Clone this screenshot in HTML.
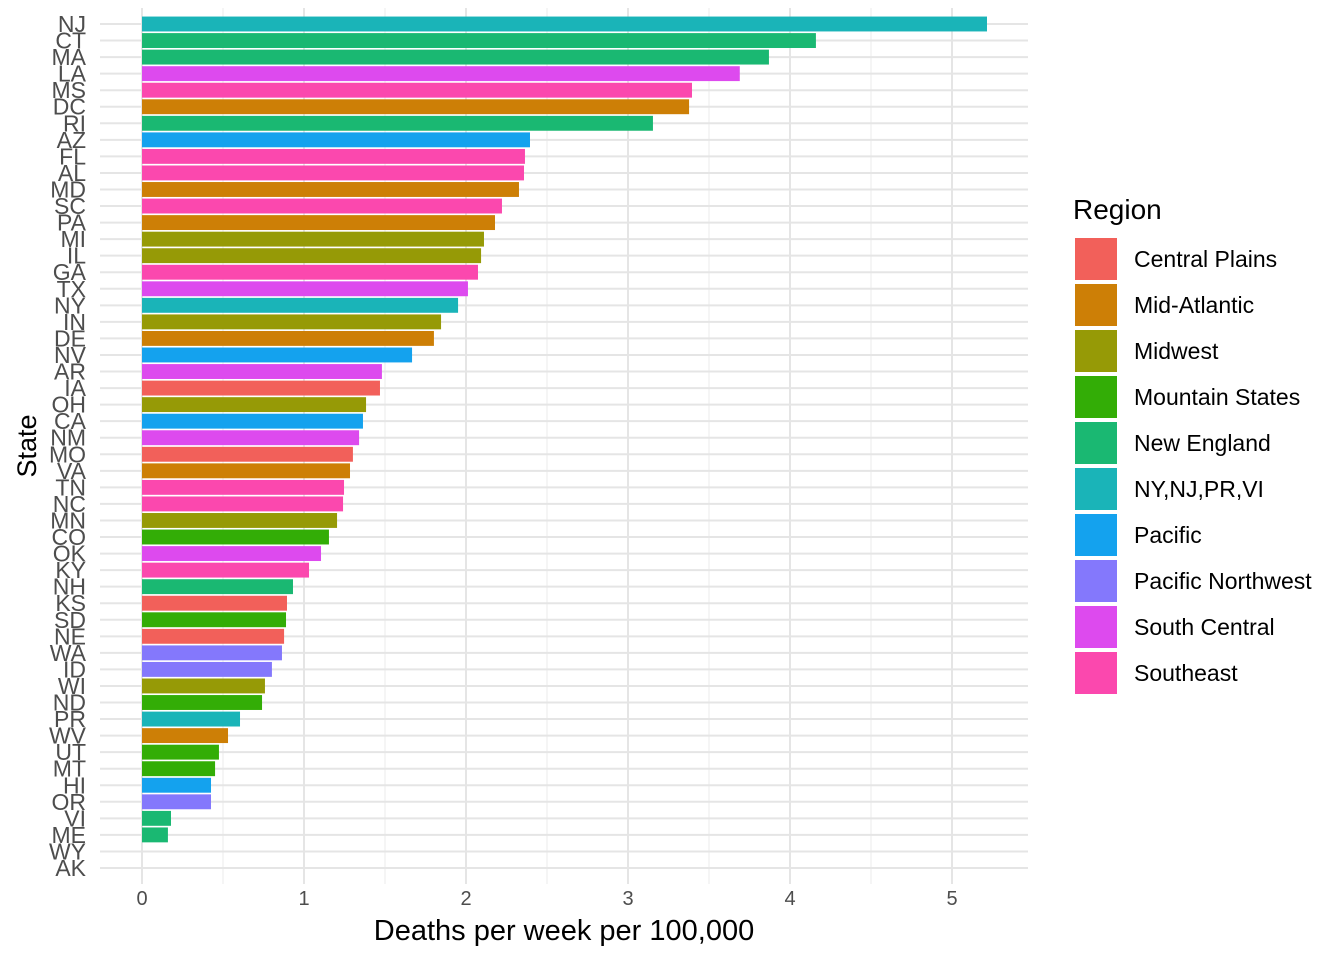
<!DOCTYPE html>
<html><head><meta charset="utf-8"><style>
body{margin:0;background:#fff;font-family:"Liberation Sans",Arial,sans-serif;}
</style></head><body>
<svg id="chart" width="1344" height="960" xmlns="http://www.w3.org/2000/svg" font-family="Liberation Sans, Arial, sans-serif"></svg>
<script>
const states=["NJ","CT","MA","LA","MS","DC","RI","AZ","FL","AL","MD","SC","PA","MI","IL","GA","TX","NY","IN","DE","NV","AR","IA","OH","CA","NM","MO","VA","TN","NC","MN","CO","OK","KY","NH","KS","SD","NE","WA","ID","WI","ND","PR","WV","UT","MT","HI","OR","VI","ME","WY","AK"];
const values=[5.216,4.16,3.87,3.69,3.395,3.377,3.154,2.395,2.364,2.358,2.327,2.222,2.179,2.111,2.093,2.074,2.012,1.951,1.846,1.802,1.667,1.481,1.469,1.383,1.364,1.34,1.302,1.284,1.247,1.241,1.204,1.154,1.105,1.031,0.932,0.895,0.889,0.877,0.864,0.802,0.759,0.741,0.605,0.531,0.475,0.451,0.426,0.426,0.179,0.16,0,0];
const stateRegions=["NY","NE","NE","SCn","SE","MA","NE","Pac","SE","SE","MA","SE","MA","MW","MW","SE","SCn","NY","MW","MA","Pac","SCn","CP","MW","Pac","SCn","CP","MA","SE","SE","MW","Mtn","SCn","SE","NE","CP","Mtn","CP","PNW","PNW","MW","Mtn","NY","MA","Mtn","Mtn","Pac","PNW","NE","NE","Mtn","PNW"];
const regionKeys=["CP","MA","MW","Mtn","NE","NY","Pac","PNW","SCn","SE"];
const regionLabels=["Central Plains","Mid-Atlantic","Midwest","Mountain States","New England","NY,NJ,PR,VI","Pacific","Pacific Northwest","South Central","Southeast"];
const regionColors=["#F2605A","#CD7F06","#969A06","#33AD06","#1AB872","#1AB4B8","#14A2EE","#8478FC","#DD4AEE","#FB48AE"];
const xTicks=[0,1,2,3,4,5];

const svg=document.getElementById('chart');
const NS="http://www.w3.org/2000/svg";
function mk(tag,attrs,parent){const e=document.createElementNS(NS,tag);for(const k in attrs)e.setAttribute(k,attrs[k]);(parent||svg).appendChild(e);return e;}
const x=v=>142+v*162;
const y=i=>24+i*(868-24)/(states.length-1);
const band=(868-24)/(states.length-1)*0.9;
for(let h=-0.5;h<=5.5;h+=1){if(x(h)>=100&&x(h)<=1030){const l=mk('line',{x1:x(h),x2:x(h),y1:8,y2:884,stroke:'#EBEBEB','stroke-width':1});

}}
xTicks.forEach(t=>{const l=mk('line',{x1:x(t),x2:x(t),y1:8,y2:884,stroke:'#E5E5E5','stroke-width':2});

});
states.forEach((s,i)=>{const l=mk('line',{x1:100,x2:1028,y1:y(i),y2:y(i),stroke:'#E5E5E5','stroke-width':2});

});
states.forEach((s,i)=>{const c=regionColors[regionKeys.indexOf(stateRegions[i])];
if(values[i]>0){const r=mk('rect',{x:x(0),y:y(i)-band/2,width:x(values[i])-x(0),height:band,fill:c});

}
const t=mk('text',{x:86,y:y(i)+8,'text-anchor':'end','font-size':23,fill:'#4D4D4D'});t.textContent=s;

});
xTicks.forEach(t=>{const e=mk('text',{x:x(t),y:905,'text-anchor':'middle','font-size':20,fill:'#4D4D4D'});e.textContent=t;

});
let xt=mk('text',{x:564,y:940,'text-anchor':'middle','font-size':29,fill:'#000'});xt.textContent="Deaths per week per 100,000";


let yt=mk('text',{x:36,y:446,'text-anchor':'middle','font-size':27,fill:'#000',transform:'rotate(-90 36 446)'});yt.textContent="State";


let lt=mk('text',{x:1073,y:219,'font-size':28,fill:'#000'});lt.textContent="Region";


regionLabels.forEach((lab,i)=>{const g=mk('g',{});


mk('rect',{x:1075,y:238+i*46,width:42,height:42,fill:regionColors[i]},g);
const t=mk('text',{x:1134,y:267+i*46,'font-size':23,fill:'#000'},g);t.textContent=lab;});
</script>
</body></html>
